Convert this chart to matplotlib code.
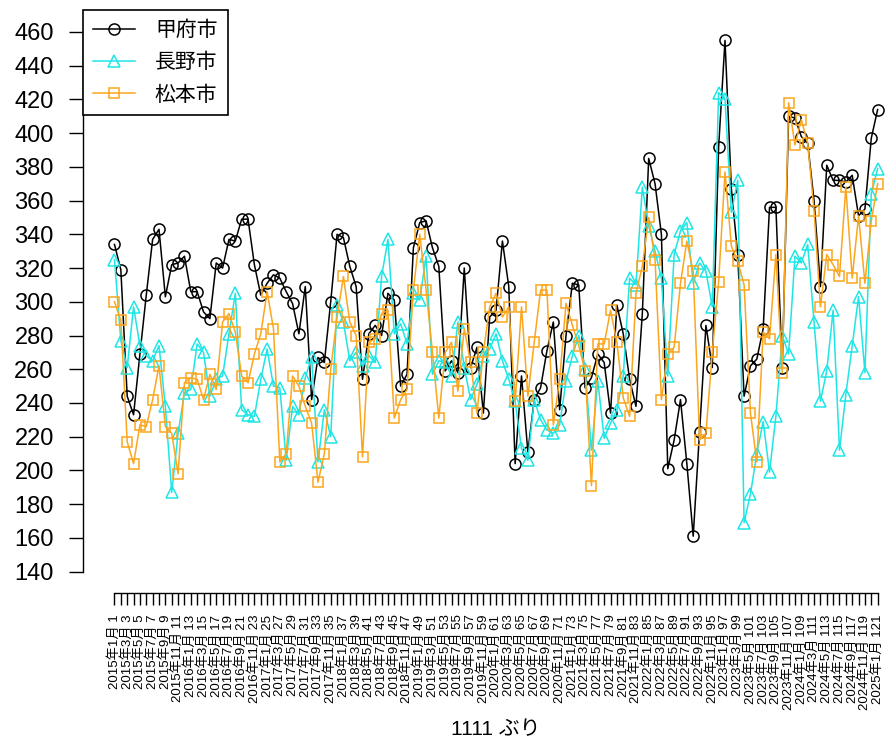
import matplotlib
matplotlib.use("Agg")
import matplotlib.pyplot as plt

plt.rcParams['font.family'] = ['Liberation Sans', 'Noto Sans CJK JP']

# monthly values, 2015/1 .. 2025/1 (121 months)
kofu = [334, 319, 244, 233, 269, 304, 337, 343, 303, 322, 323, 327,
        306, 306, 294, 290, 323, 320, 337, 336, 349, 349, 322, 304,
        311, 316, 314, 306, 299, 281, 309, 242, 267, 264, 300, 340,
        338, 321, 309, 254, 281, 286, 280, 305, 301, 250, 257, 332,
        347, 348, 332, 321, 259, 265, 258, 320, 261, 273, 234, 291,
        295, 336, 309, 204, 256, 211, 242, 249, 271, 288, 236, 280,
        311, 310, 249, 255, 269, 264, 234, 298, 281, 254, 238, 293,
        385, 370, 340, 201, 218, 242, 204, 161, 223, 286, 261, 392,
        455, 367, 328, 244, 262, 266, 284, 356, 356, 261, 410, 409,
        398, 394, 360, 309, 381, 372, 372, 371, 375, 351, 355, 397,
        414]

nagano = [325, 277, 261, 297, 274, 268, 265, 274, 238, 187, 222, 246,
          248, 275, 270, 244, 254, 256, 281, 305, 236, 233, 232, 254,
          272, 250, 249, 206, 238, 233, 255, 267, 205, 236, 220, 298,
          288, 265, 270, 262, 268, 264, 315, 337, 281, 287, 275, 305,
          301, 327, 257, 265, 264, 256, 288, 261, 242, 251, 268, 272,
          281, 265, 254, 241, 213, 206, 242, 230, 224, 222, 227, 253,
          268, 280, 260, 212, 253, 219, 228, 236, 256, 314, 310, 368,
          345, 330, 314, 256, 328, 342, 347, 311, 323, 318, 297, 424,
          420, 353, 372, 169, 186, 210, 229, 199, 232, 280, 269, 327,
          323, 334, 288, 241, 259, 295, 212, 245, 274, 303, 258, 364,
          379]

matsumoto = [300, 289, 217, 204, 227, 226, 242, 262, 226, 222, 198, 252,
             255, 254, 242, 257, 248, 288, 293, 282, 256, 252, 269, 281,
             306, 284, 205, 210, 256, 250, 238, 228, 193, 210, 260, 291,
             315, 288, 280, 208, 276, 278, 293, 295, 231, 242, 248, 307,
             340, 307, 270, 231, 270, 276, 247, 284, 264, 234, 270, 297,
             305, 291, 297, 241, 297, 244, 276, 307, 307, 227, 254, 299,
             286, 274, 259, 191, 275, 275, 295, 276, 243, 232, 305, 321,
             350, 325, 242, 269, 273, 311, 336, 318, 218, 222, 270, 312,
             377, 333, 324, 310, 234, 205, 282, 278, 328, 258, 418, 393,
             408, 394, 354, 297, 328, 322, 315, 368, 314, 351, 311, 348,
             370]

names = ["甲府市", "長野市", "松本市"]
colors = ["black", "#1FE5E5", "#FBA61E"]
markers = ["o", "^", "s"]

idx = list(range(1, len(kofu) + 1))
labels = []
for i in idx:
    y = 2015 + (i - 1) // 12
    m = (i - 1) % 12 + 1
    labels.append(f"{y}年{m}月 {i}" if i % 2 == 1 else "")

W, H = 886, 742
fig = plt.figure(figsize=(W / 100, H / 100), dpi=100)
ax = fig.add_axes([83 / W, 1 - 593 / H, 801 / W, 588 / H])

for vals, nm, c, mk in zip([kofu, nagano, matsumoto], names, colors, markers):
    ax.plot(idx, vals, color=c, marker=mk, markerfacecolor="none",
            markeredgecolor=c, markersize=8 if mk != "s" else 6.8,
            markeredgewidth=1.1, linewidth=1.1, label=nm)

ax.set_xlim(-3.95, 122.0)
ax.set_ylim(127.3, 476.0)

ax.set_yticks(range(140, 461, 20))
ax.set_xticks(idx)
ax.set_xticklabels(labels, rotation=90, fontsize=9.5)
ax.tick_params(axis="y", labelsize=17, length=10, width=1.0, pad=11)
ax.tick_params(axis="x", length=8.5, width=1.0, pad=7)

for s in ["top", "right"]:
    ax.spines[s].set_visible(False)
ax.spines["left"].set_bounds(140, 460)
ax.spines["bottom"].set_bounds(1, 121)
ax.spines["left"].set_linewidth(1.0)
ax.spines["bottom"].set_linewidth(1.0)

leg = ax.legend(loc="upper left", bbox_to_anchor=(83 / W, 1 - 10 / H),
                bbox_transform=fig.transFigure, borderaxespad=0,
                fancybox=False, edgecolor="black", framealpha=1,
                fontsize=15, handlelength=2.0, handletextpad=0.95,
                labelspacing=0.62, borderpad=0.5)
leg.get_frame().set_linewidth(1.2)

fig.text(496 / W, 1 - 730 / H, "1111 ぶり", ha="center", va="center",
         fontsize=15)

fig.savefig("out.png", dpi=100)
